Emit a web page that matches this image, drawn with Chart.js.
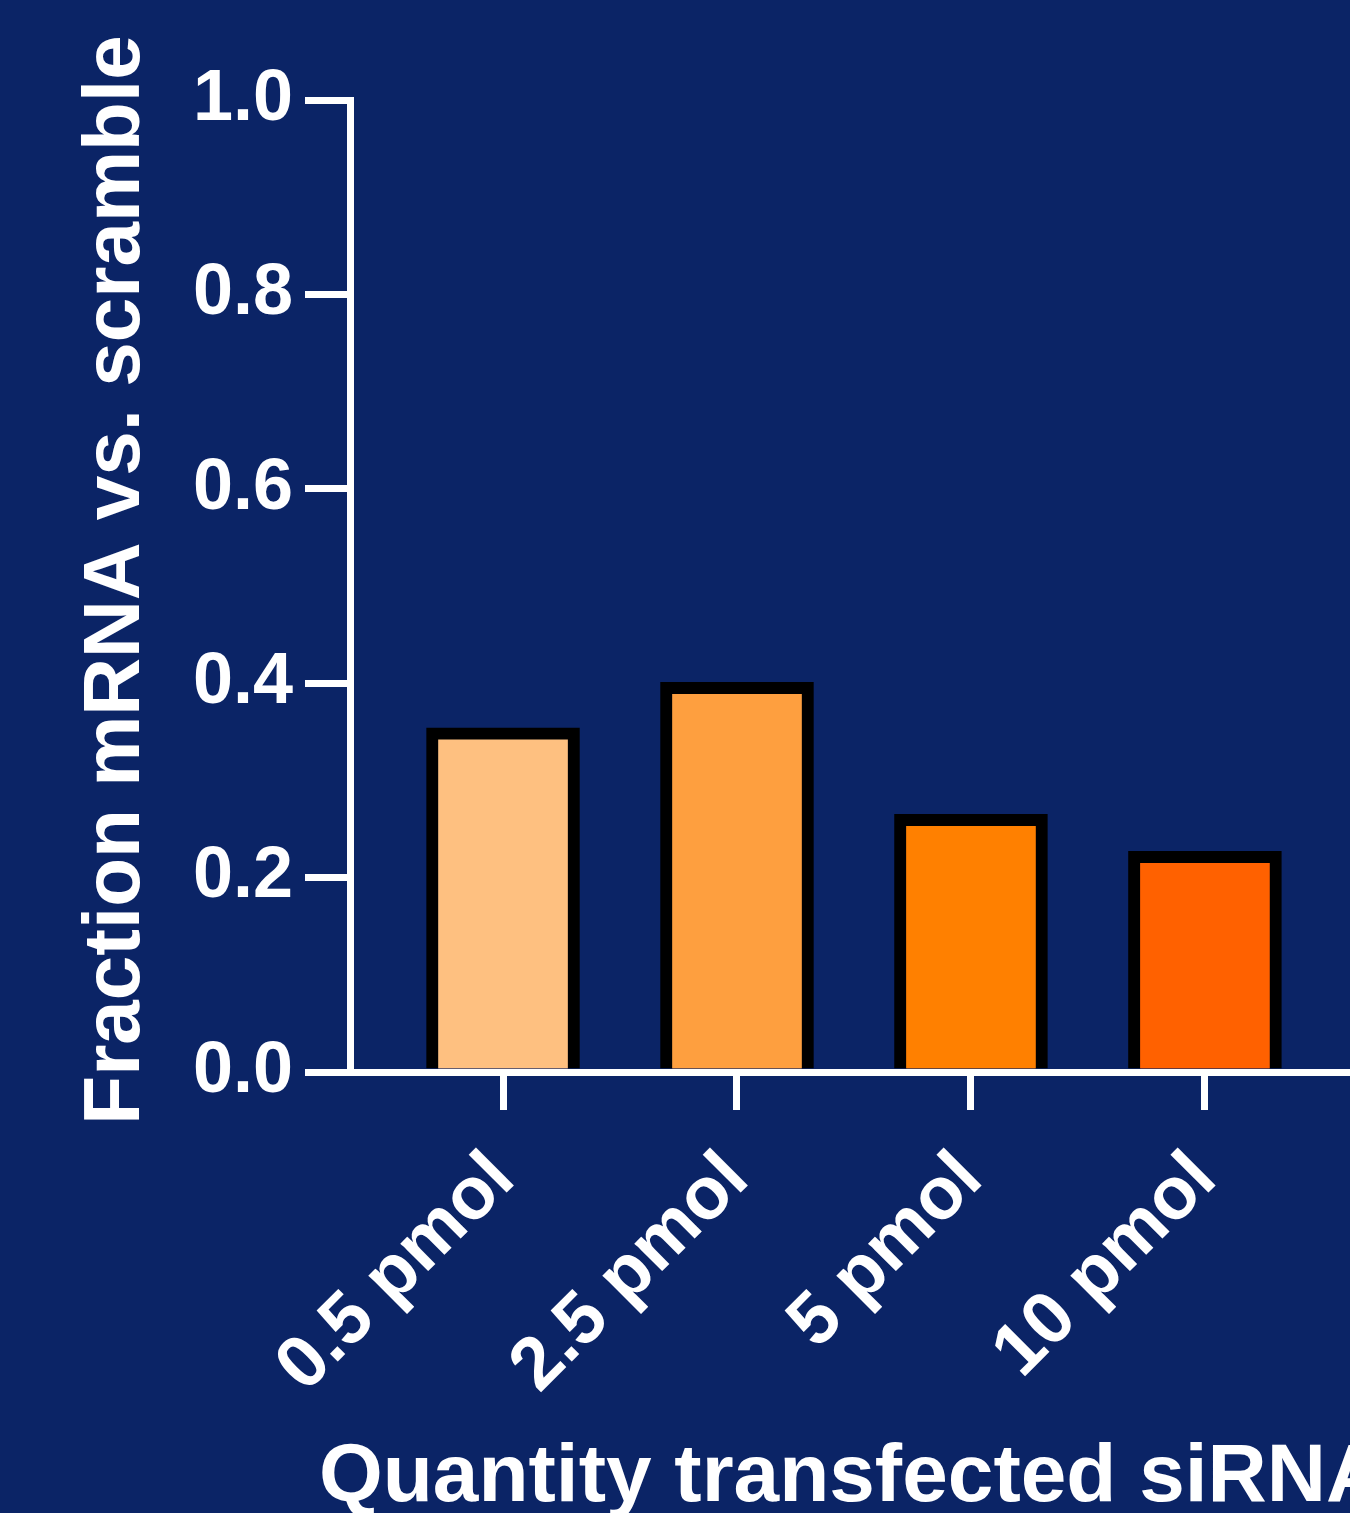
<!DOCTYPE html>
<html>
<head>
<meta charset="utf-8">
<script src="https://cdn.jsdelivr.net/npm/chart.js@4.4.0/dist/chart.umd.min.js"></script>
<style>
  html, body { margin: 0; padding: 0; background: #0b2466; overflow: hidden; }
  #wrap { position: relative; width: 1350px; height: 1513px; }
</style>
</head>
<body>
<div id="wrap"><canvas id="chart"></canvas></div>
<script>
// data
const categories = ['0.5 pmol', '2.5 pmol', '5 pmol', '10 pmol'];
const fractionValues = [0.354, 0.401, 0.265, 0.227];
const barColors = ['#fec080', '#fe9f3f', '#ff8000', '#ff6100'];
const yTicks = [0, 0.2, 0.4, 0.6, 0.8, 1.0];
const yTitle = 'Fraction mRNA vs. scramble';
const xTitle = 'Quantity transfected siRNA';

const FONT = '"Liberation Sans", Arial, sans-serif';

// axis titles drawn by hand so they are not squeezed to the axis length
const axisTitles = {
  id: 'axisTitles',
  afterDraw(chart) {
    const { ctx, chartArea } = chart;
    ctx.save();
    ctx.fillStyle = '#ffffff';
    ctx.textBaseline = 'alphabetic';

    ctx.font = 'bold 80px ' + FONT;
    ctx.textAlign = 'center';
    ctx.translate(chartArea.left - 211, (chartArea.top + chartArea.bottom) / 2 - 6);
    ctx.rotate(-Math.PI / 2);
    ctx.fillText(yTitle, 0, 0);
    ctx.restore();

    ctx.save();
    ctx.fillStyle = '#ffffff';
    ctx.font = 'bold 82px ' + FONT;
    ctx.textAlign = 'left';
    ctx.textBaseline = 'alphabetic';
    ctx.fillText(xTitle, chartArea.left - 31, chartArea.bottom + 429);
    ctx.restore();
  }
};

new Chart(document.getElementById('chart'), {
  type: 'bar',
  data: {
    datasets: [{
      label: 'Fraction mRNA',
      data: categories.map((c, i) => ({ x: i, y: fractionValues[i] })),
      backgroundColor: barColors,
      borderColor: '#000000',
      borderWidth: 12,
      borderSkipped: 'start',
      barThickness: 153
    }]
  },
  options: {
    responsive: true,
    maintainAspectRatio: false,
    animation: false,
    layout: { padding: { top: 100, right: 0, bottom: 0, left: 0 } },
    plugins: {
      legend: { display: false },
      tooltip: { enabled: false }
    },
    scales: {
      x: {
        type: 'linear',
        min: -0.654,
        max: 3.62,
        offset: false,
        afterBuildTicks: scale => {
          scale.ticks = categories.map((c, i) => ({ value: i }));
        },
        afterFit: scale => { scale.height = 441; },
        ticks: {
          color: '#ffffff',
          font: { family: FONT, size: 74, weight: 'bold' },
          minRotation: 45,
          maxRotation: 45,
          autoSkip: false,
          padding: 26,
          callback: v => categories[v]
        },
        grid: {
          display: true,
          offset: false,
          drawOnChartArea: false,
          drawTicks: true,
          tickLength: 38,
          color: '#ffffff',
          lineWidth: 7
        },
        border: { display: true, color: '#ffffff', width: 7 }
      },
      y: {
        min: 0,
        max: 1,
        afterBuildTicks: scale => {
          scale.ticks = yTicks.map(v => ({ value: v }));
        },
        afterFit: scale => { scale.width = 350; },
        ticks: {
          color: '#ffffff',
          font: { family: FONT, size: 72, weight: 'bold' },
          padding: 12,
          callback: v => v.toFixed(1)
        },
        grid: {
          display: true,
          drawOnChartArea: false,
          drawTicks: true,
          tickLength: 45,
          color: '#ffffff',
          lineWidth: 7
        },
        border: { display: true, color: '#ffffff', width: 7 }
      }
    }
  },
  plugins: [axisTitles]
});
</script>
</body>
</html>
